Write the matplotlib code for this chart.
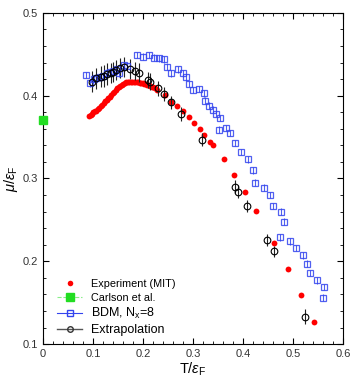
import numpy as np
import matplotlib
matplotlib.use("Agg")
import matplotlib.pyplot as plt
from matplotlib.lines import Line2D

plt.rcParams["font.family"] = ["Liberation Sans", "DejaVu Sans"]
plt.rcParams["mathtext.fontset"] = "custom"
plt.rcParams["mathtext.rm"] = "Liberation Sans"
plt.rcParams["mathtext.it"] = "Liberation Sans:italic"

# Experiment (MIT)
exp_T = [0.092, 0.095, 0.098, 0.100, 0.103, 0.106, 0.109, 0.112, 0.115, 0.118,
         0.121, 0.124, 0.127, 0.130, 0.133, 0.136, 0.139, 0.142, 0.145, 0.148,
         0.151, 0.154, 0.157, 0.160, 0.163, 0.166, 0.169, 0.172, 0.175, 0.178,
         0.181, 0.184, 0.187, 0.190, 0.193, 0.196, 0.199, 0.202, 0.205, 0.208,
         0.211, 0.214, 0.217, 0.220, 0.223,
         0.227, 0.243, 0.256, 0.267, 0.279, 0.291, 0.302, 0.313, 0.322, 0.334,
         0.339, 0.361, 0.382, 0.404, 0.426, 0.462, 0.489, 0.516, 0.542]
exp_mu = [0.376, 0.377, 0.378, 0.380, 0.381, 0.382, 0.384, 0.385, 0.387, 0.389,
          0.391, 0.393, 0.395, 0.397, 0.399, 0.401, 0.403, 0.405, 0.407, 0.409,
          0.410, 0.412, 0.413, 0.414, 0.415, 0.416, 0.416, 0.416, 0.416, 0.416,
          0.416, 0.416, 0.416, 0.416, 0.415, 0.415, 0.415, 0.414, 0.414, 0.413,
          0.413, 0.412, 0.411, 0.410, 0.409,
          0.407, 0.401, 0.392, 0.388, 0.381, 0.374, 0.367, 0.360, 0.352, 0.344,
          0.340, 0.324, 0.304, 0.284, 0.261, 0.222, 0.191, 0.159, 0.127]

# Carlson et al.
carl_T = [0.0]
carl_mu = [0.371]

# BDM, Nx=8
bdm_T = [0.086, 0.094, 0.101, 0.106, 0.113, 0.119, 0.127, 0.134, 0.141, 0.147,
         0.151, 0.161, 0.167, 0.187, 0.199, 0.211, 0.221, 0.231, 0.242, 0.247,
         0.256, 0.269, 0.279, 0.286, 0.291, 0.299, 0.312, 0.321, 0.324, 0.332,
         0.339, 0.346, 0.354, 0.352, 0.366, 0.373, 0.383, 0.396, 0.409, 0.419,
         0.424, 0.441, 0.453, 0.459, 0.475, 0.482, 0.473, 0.494, 0.506, 0.519,
         0.527, 0.534, 0.547, 0.561, 0.559]
bdm_mu = [0.425, 0.415, 0.420, 0.421, 0.422, 0.424, 0.427, 0.429, 0.430, 0.432,
          0.427, 0.437, 0.436, 0.449, 0.447, 0.449, 0.446, 0.445, 0.444, 0.435,
          0.427, 0.432, 0.427, 0.422, 0.414, 0.407, 0.408, 0.403, 0.394, 0.388,
          0.383, 0.378, 0.373, 0.359, 0.361, 0.355, 0.343, 0.332, 0.323, 0.310,
          0.295, 0.289, 0.280, 0.267, 0.260, 0.248, 0.229, 0.224, 0.216, 0.207,
          0.197, 0.186, 0.177, 0.169, 0.156]

# Extrapolation
ext_T = [0.097, 0.106, 0.115, 0.122, 0.127, 0.135, 0.140, 0.146, 0.154, 0.162,
         0.173, 0.184, 0.191, 0.209, 0.214, 0.229, 0.242, 0.256, 0.275, 0.317,
         0.383, 0.389, 0.407, 0.447, 0.461, 0.523]
ext_mu = [0.417, 0.421, 0.423, 0.424, 0.426, 0.427, 0.429, 0.431, 0.433, 0.435,
          0.432, 0.430, 0.428, 0.419, 0.417, 0.409, 0.402, 0.392, 0.378, 0.347,
          0.290, 0.284, 0.267, 0.226, 0.212, 0.133]
ext_err = [0.013, 0.013, 0.013, 0.013, 0.013, 0.012, 0.012, 0.012, 0.012, 0.012,
           0.012, 0.011, 0.011, 0.010, 0.010, 0.009, 0.009, 0.008, 0.008, 0.008,
           0.008, 0.008, 0.007, 0.007, 0.007, 0.009]

fig = plt.figure(figsize=(3.63, 3.91), dpi=100)
ax = fig.add_axes([0.1185, 0.12, 0.8265, 0.847])

ax.plot(exp_T, exp_mu, "o", color="red", markersize=4.2, markeredgewidth=0)
ax.plot(carl_T, carl_mu, "s", color="#22dd22", markersize=6, clip_on=False, zorder=5)
ax.errorbar(bdm_T, bdm_mu, yerr=0.004, fmt="s", color="#3344ee", mfc="none",
            markersize=5, markeredgewidth=0.9, elinewidth=0.8, capsize=0, alpha=0.85)
ax.errorbar(ext_T, ext_mu, yerr=ext_err, fmt="o", color="black", mfc="none",
            markersize=4.8, markeredgewidth=0.8, elinewidth=0.8, capsize=0, ecolor="#222222")

ax.set_xlim(0, 0.6)
ax.set_ylim(0.1, 0.5)
ax.set_xticks(np.arange(0, 0.61, 0.1))
ax.set_xticklabels(["0", "0.1", "0.2", "0.3", "0.4", "0.5", "0.6"])
ax.set_yticks(np.arange(0.1, 0.51, 0.1))
ax.set_yticklabels(["0.1", "0.2", "0.3", "0.4", "0.5"])
ax.set_xticks(np.arange(0, 0.601, 0.02), minor=True)
ax.set_yticks(np.arange(0.1, 0.501, 0.02), minor=True)
ax.tick_params(which="both", direction="in", top=True, right=True, labelsize=8,
               labelcolor="#333333")
ax.tick_params(which="major", length=4)
ax.tick_params(which="minor", length=2)
ax.set_xlabel(r"T/$\varepsilon_{\rm F}$", fontsize=10.5, labelpad=1)
ax.set_ylabel(r"$\mu$/$\varepsilon_{\rm F}$", fontsize=10.5, labelpad=2)

handles = [
    Line2D([], [], ls="none", marker="o", color="red", markersize=4, markeredgewidth=0),
    Line2D([], [], ls="--", lw=0.8, color="#88ee88", marker="s", mfc="#22dd22",
           mec="#22dd22", markersize=6),
    Line2D([], [], ls="-", lw=0.8, color="#3344ee", marker="s", mfc="none", markersize=4),
    Line2D([], [], ls="-", lw=1.0, color="#555555", marker="o", mfc="none",
           mec="#333333", markersize=4),
]
labels = ["Experiment (MIT)", "Carlson et al.", r"BDM, N$_{\rm x}$=8", "Extrapolation"]
leg = ax.legend(handles, labels, loc="lower left", frameon=False, fontsize=8,
                handlelength=2.3, labelspacing=0.3, borderaxespad=0.3,
                bbox_to_anchor=(0.02, 0.0))
for t, s in zip(leg.get_texts(), [7.8, 7.8, 9, 9]):
    t.set_fontsize(s)

fig.savefig("out.png", dpi=100)
